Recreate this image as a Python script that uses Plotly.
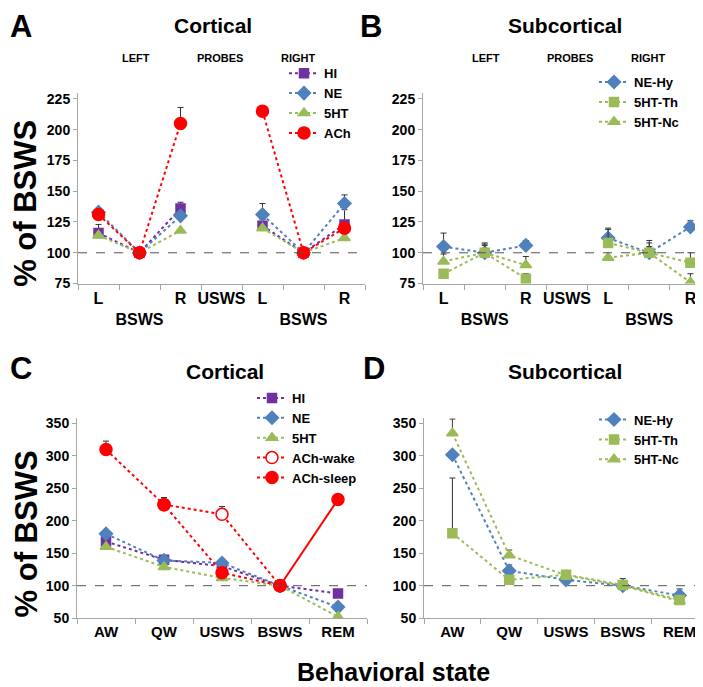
import plotly.graph_objects as go

FONT = "Arial, Liberation Sans, sans-serif"

PURPLE = "#7030A0"
BLUE = "#4F81BD"
GREEN = "#9BBB59"
RED = "#FF0000"

# panels A/B: probe positions
probe_labels = ["L", "<br>BSWS", "R", "USWS", "L", "<br>BSWS", "R"]
probe_pos = [0, 1, 2, 3, 4, 5, 6]

a_hi = [116, 100, 136, None, 122, 100, 123]
a_hi_err = [7, 0, 5, 0, 5, 0, 12]
a_ne = [133, 100, 130, None, 131, 100, 140]
a_ne_err = [3, 0, 0, 0, 9, 0, 7]
a_5ht = [114, 100, 118, None, 120, 100, 112]
a_5ht_err = [0, 0, 0, 0, 0, 0, 0]
a_ach = [131, 100, 205, None, 215, 100, 120]
a_ach_err = [0, 0, 13, 0, 0, 0, 0]

b_ne = [105, 100, 106, None, 112, 100, 121]
b_ne_err = [11, 8, 4, 0, 8, 10, 5]
b_th = [83, 100, 79, None, 108, 100, 92]
b_th_err = [2, 7, 4, 0, 11, 8, 8]
b_nc = [93, 100, 90, None, 96, 100, 76]
b_nc_err = [6, 6, 7, 0, 0, 5, 7]

# panels C/D: behavioral states
states = ["AW", "QW", "USWS", "BSWS", "REM"]
state_pos = [0, 1, 2, 3, 4]

c_hi = [168, 140, 130, 100, 88]
c_ne = [180, 139, 135, 100, 67]
c_5ht = [160, 129, 112, 100, 52]
c_ach_wake = [None, 225, 210, 100, None]
c_ach_wake_err = [0, 0, 12, 0, 0]
c_ach_sleep = [310, 225, 120, 100, None]
c_ach_sleep_err = [13, 11, 0, 0, 0]
c_ach_rem = [None, None, None, 100, 233]

d_ne = [302, 123, 109, 100, 85]
d_ne_err = [0, 9, 0, 11, 10]
d_th = [181, 109, 117, 101, 78]
d_th_err = [85, 0, 0, 0, 0]
d_nc = [335, 147, 116, 100, 76]
d_nc_err = [22, 8, 0, 0, 0]

W, H = 703, 687


def fx(px):
    return px / W


def fy(py):
    return 1 - py / H


def err(vals):
    return dict(type="data", array=vals, arrayminus=[0] * len(vals), symmetric=False,
                color="#333333", thickness=1, width=3)


def series(x, y, name, color, symbol, size, xa, ya, legend, e=None, dash="dot",
           showlegend=True, rank=1000, fill=None):
    return go.Scatter(
        x=x, y=y, name=name, mode="lines+markers", connectgaps=False,
        line=dict(color=color, dash=dash, width=2),
        marker=dict(color=fill or color, symbol=symbol, size=size,
                    line=dict(color=color, width=1.5)),
        error_y=err(e) if e else None,
        xaxis=xa, yaxis=ya, legend=legend, showlegend=showlegend, legendrank=rank,
    )


fig = go.Figure()

# A
fig.add_trace(series(probe_pos, a_hi, "HI", PURPLE, "square", 9, "x", "y", "legend", a_hi_err))
fig.add_trace(series(probe_pos, a_ne, "NE", BLUE, "diamond", 10, "x", "y", "legend", a_ne_err))
fig.add_trace(series(probe_pos, a_5ht, "5HT", GREEN, "triangle-up", 10, "x", "y", "legend", a_5ht_err))
fig.add_trace(series(probe_pos, a_ach, "ACh", RED, "circle", 12, "x", "y", "legend", a_ach_err))

# B
fig.add_trace(series(probe_pos, b_ne, "NE-Hy", BLUE, "diamond", 10, "x2", "y2", "legend2", b_ne_err))
fig.add_trace(series(probe_pos, b_th, "5HT-Th", GREEN, "square", 9, "x2", "y2", "legend2", b_th_err))
fig.add_trace(series(probe_pos, b_nc, "5HT-Nc", GREEN, "triangle-up", 10, "x2", "y2", "legend2", b_nc_err))

# C
fig.add_trace(series(state_pos, c_hi, "HI", PURPLE, "square", 9, "x3", "y3", "legend3", rank=1))
fig.add_trace(series(state_pos, c_ne, "NE", BLUE, "diamond", 10, "x3", "y3", "legend3", rank=2))
fig.add_trace(series(state_pos, c_5ht, "5HT", GREEN, "triangle-up", 10, "x3", "y3", "legend3", rank=3))
fig.add_trace(series(state_pos, c_ach_wake, "ACh-wake", RED, "circle", 12, "x3", "y3", "legend3",
                     c_ach_wake_err, rank=4, fill="white"))
fig.add_trace(series(state_pos, c_ach_sleep, "ACh-sleep", RED, "circle", 12, "x3", "y3", "legend3",
                     c_ach_sleep_err, rank=5))
fig.add_trace(series(state_pos, c_ach_rem, "ACh-sleep", RED, "circle", 12, "x3", "y3", "legend3",
                     dash="solid", showlegend=False))

# D
fig.add_trace(series(state_pos, d_ne, "NE-Hy", BLUE, "diamond", 10, "x4", "y4", "legend4", d_ne_err))
fig.add_trace(series(state_pos, d_th, "5HT-Th", GREEN, "square", 9, "x4", "y4", "legend4", d_th_err))
fig.add_trace(series(state_pos, d_nc, "5HT-Nc", GREEN, "triangle-up", 10, "x4", "y4", "legend4", d_nc_err))

tick_font = dict(family=FONT, size=14, color="black", weight="bold")
AXC = "#A6A6A6"

xprobe = dict(range=[-0.5, 6.5], tickvals=probe_pos, ticktext=probe_labels, ticks="",
              tickfont=dict(family=FONT, size=16, color="black", weight="bold"),
              showline=True, linecolor=AXC, showgrid=False, zeroline=False,
              minor=dict(tick0=-0.5, dtick=1, ticks="outside", ticklen=5, tickcolor=AXC))
xstate = dict(range=[-0.5, 4.5], tickvals=state_pos, ticktext=states, ticks="",
              tickfont=dict(family=FONT, size=15, color="black", weight="bold"),
              showline=True, linecolor=AXC, showgrid=False, zeroline=False,
              minor=dict(tick0=-0.5, dtick=1, ticks="outside", ticklen=5, tickcolor=AXC))
yprobe = dict(range=[75, 230], tickvals=[75, 100, 125, 150, 175, 200, 225], ticks="outside",
              ticklen=4, tickcolor=AXC, tickfont=tick_font, showline=True, linecolor=AXC,
              showgrid=False, zeroline=False)
ystate = dict(range=[50, 358], tickvals=[50, 100, 150, 200, 250, 300, 350], ticks="outside",
              ticklen=4, tickcolor=AXC, tickfont=tick_font, showline=True, linecolor=AXC,
              showgrid=False, zeroline=False)

legend_common = dict(font=dict(family=FONT, size=13, color="black", weight="bold"),
                     bgcolor="rgba(0,0,0,0)", itemwidth=30, tracegroupgap=0,
                     xanchor="left", yanchor="top", xref="paper", yref="paper")

fig.update_layout(
    width=W, height=H,
    margin=dict(l=0, r=0, t=0, b=0),
    paper_bgcolor="white", plot_bgcolor="white",
    font=dict(family=FONT, color="black"),
    xaxis=dict(domain=[fx(70), fx(357)], anchor="y", **xprobe),
    yaxis=dict(domain=[fy(277), fy(83)], anchor="x", **yprobe),
    xaxis2=dict(domain=[fx(415), fx(703)], anchor="y2", **xprobe),
    yaxis2=dict(domain=[fy(277), fy(83)], anchor="x2", **yprobe),
    xaxis3=dict(domain=[fx(69), fx(359)], anchor="y3", **xstate),
    yaxis3=dict(domain=[fy(617), fy(414)], anchor="x3", **ystate),
    xaxis4=dict(domain=[fx(416), fx(700)], anchor="y4", **xstate),
    yaxis4=dict(domain=[fy(617), fy(414)], anchor="x4", **ystate),
    legend=dict(x=fx(276), y=fy(48), **legend_common),
    legend2=dict(x=fx(586), y=fy(57), **legend_common),
    legend3=dict(x=fx(244), y=fy(378), **legend_common),
    legend4=dict(x=fx(586), y=fy(400), **legend_common),
)

for xa, ya in [("x", "y"), ("x2", "y2"), ("x3", "y3"), ("x4", "y4")]:
    fig.add_shape(type="line", xref=f"{xa} domain", yref=ya, x0=0, x1=1, y0=100, y1=100,
                  line=dict(color="#555555", width=1, dash="dash"))

ann = []
for txt, x, y in [("A", 13, 16), ("B", 363, 16), ("C", 13, 363), ("D", 366, 363)]:
    ann.append(dict(text=txt, x=fx(x), y=fy(y), font=dict(family=FONT, size=31, weight="bold")))
for txt, x, y in [("Cortical", 205, 15), ("Subcortical", 557, 15),
                  ("Cortical", 217, 366), ("Subcortical", 557, 366)]:
    ann.append(dict(text=txt, x=fx(x), y=fy(y), font=dict(family=FONT, size=21, weight="bold")))
for off in [0, 350]:
    for txt, x in [("LEFT", 128), ("PROBES", 212), ("RIGHT", 290)]:
        ann.append(dict(text=txt, x=fx(x + off), y=fy(48), font=dict(family=FONT, size=11, weight="bold")))
for y in [196, 532]:
    ann.append(dict(text="% of BSWS", x=fx(18), y=fy(y), textangle=-90,
                    font=dict(family=FONT, size=31, weight="bold")))
ann.append(dict(text="Behavioral state", x=fx(385), y=fy(672),
                font=dict(family=FONT, size=25, weight="bold")))
for a in ann:
    a.update(xref="paper", yref="paper", showarrow=False, xanchor="center", yanchor="middle")
    a["font"]["color"] = "black"
fig.update_layout(annotations=ann)

fig.write_html("out.html")
